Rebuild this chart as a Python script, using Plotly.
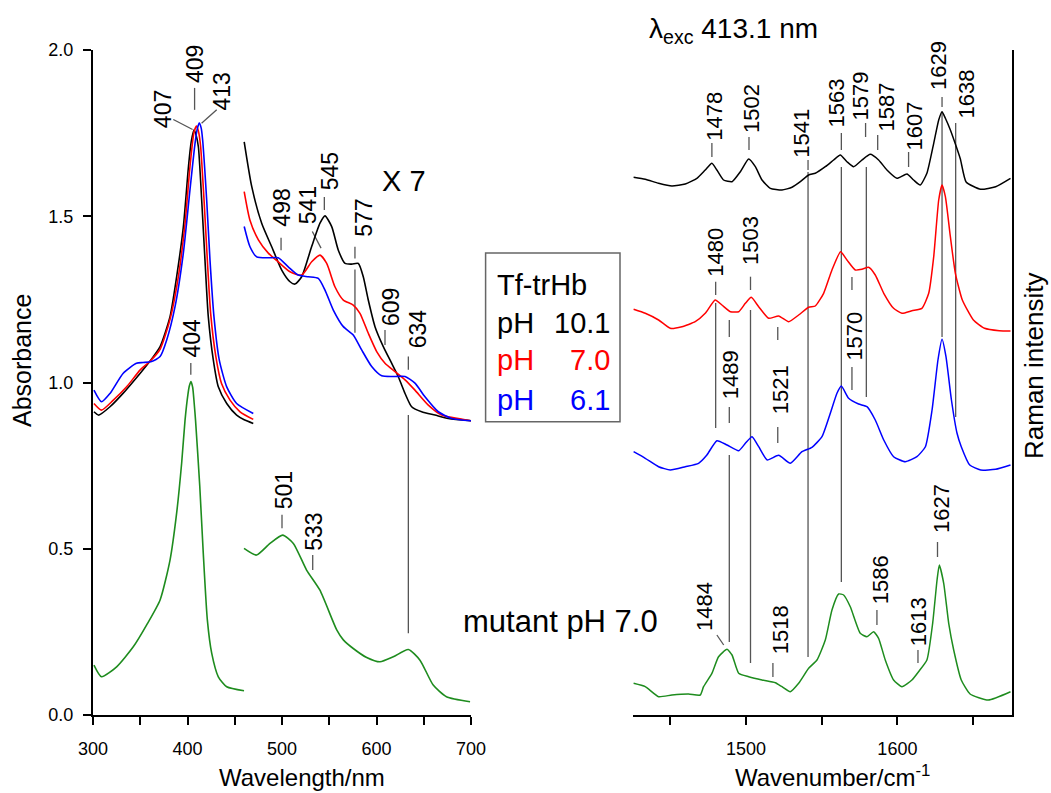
import plotly.graph_objects as go

FONT = "Liberation Sans, Arial, Helvetica, sans-serif"
W, H = 1051, 793

# ---------------- UV-vis absorbance data (nm, absorbance) ----------------
soret_black_nm = [301, 306, 318, 332, 350, 360, 371, 381.5, 388.5, 395.6, 401, 404, 407, 409, 411.5, 415, 418.5, 422, 427.3, 432.6, 441.5, 452, 460, 469.6]
soret_black_A = [0.912, 0.902, 0.927, 0.968, 1.028, 1.063, 1.108, 1.198, 1.318, 1.468, 1.649, 1.725, 1.76, 1.745, 1.709, 1.549, 1.368, 1.198, 1.068, 0.987, 0.937, 0.902, 0.888, 0.877]

soret_red_nm = [301, 309, 321.5, 335.6, 350, 360, 371, 381.5, 390.3, 397.4, 402.6, 407, 409.7, 412, 413.9, 417.5, 421, 424.5, 430, 436, 445, 455.6, 469.6]
soret_red_A = [0.937, 0.917, 0.947, 0.987, 1.038, 1.063, 1.10, 1.19, 1.318, 1.478, 1.649, 1.755, 1.771, 1.75, 1.709, 1.549, 1.368, 1.208, 1.078, 0.997, 0.947, 0.912, 0.889]

soret_blue_nm = [301, 309, 318, 332, 346, 353, 362, 371, 378, 386.8, 395.6, 402.6, 408, 410.5, 412.5, 414.5, 416, 420.3, 423.8, 428, 433.6, 441.5, 452, 469.6]
soret_blue_A = [0.977, 0.942, 0.967, 1.028, 1.058, 1.06, 1.063, 1.078, 1.128, 1.228, 1.389, 1.579, 1.72, 1.765, 1.78, 1.765, 1.73, 1.549, 1.368, 1.198, 1.068, 0.987, 0.937, 0.907]

soret_green_nm = [301, 309, 325, 342.6, 356.8, 371, 381.5, 388.5, 393.8, 397.4, 400.5, 402, 403.7, 405.5, 407, 408.5, 413, 416.7, 421, 425.6, 432.6, 441.5, 459.8]
soret_green_A = [0.150, 0.115, 0.145, 0.205, 0.271, 0.346, 0.466, 0.607, 0.757, 0.887, 0.965, 0.99, 1.003, 0.985, 0.94, 0.887, 0.687, 0.486, 0.286, 0.186, 0.115, 0.085, 0.073]

vis_black_nm = [460, 468, 478.5, 489, 499.7, 508.5, 513.8, 520.8, 531.4, 540.2, 545.5, 552.6, 559.6, 566.7, 573.8, 580.8, 586, 591.3, 598.4, 607.2, 616, 623, 630.2, 637.2, 647.8, 661.9, 676, 700]
vis_black_A = [1.724, 1.589, 1.479, 1.409, 1.338, 1.303, 1.296, 1.318, 1.409, 1.479, 1.501, 1.469, 1.398, 1.358, 1.356, 1.358, 1.318, 1.248, 1.168, 1.108, 1.058, 1.018, 0.967, 0.927, 0.912, 0.902, 0.892, 0.885]

vis_red_nm = [460, 466, 475, 485.5, 496, 508.5, 520.8, 531.4, 540.2, 547.3, 556, 564.9, 575.4, 582.5, 591.3, 600.2, 609, 619.6, 630.2, 640.7, 654.8, 669, 700]
vis_red_A = [1.574, 1.489, 1.429, 1.389, 1.363, 1.333, 1.323, 1.363, 1.383, 1.358, 1.288, 1.248, 1.233, 1.208, 1.148, 1.093, 1.058, 1.033, 1.008, 0.977, 0.932, 0.902, 0.885]

vis_blue_nm = [460, 466, 473.2, 485.5, 496, 506.6, 517.2, 527.8, 538.4, 545.5, 554.3, 564.9, 575.4, 584.3, 594.9, 605.5, 619.6, 630.2, 640.7, 651.3, 665.4, 679.6, 700]
vis_blue_A = [1.469, 1.409, 1.378, 1.375, 1.375, 1.348, 1.323, 1.318, 1.313, 1.278, 1.218, 1.168, 1.143, 1.098, 1.048, 1.020, 1.018, 1.018, 0.998, 0.957, 0.912, 0.892, 0.885]

vis_green_nm = [459.8, 473, 487.3, 500.7, 512, 526, 540, 557.9, 564.9, 575.4, 589.6, 603.7, 617.8, 633.7, 646, 660, 674, 699]
vis_green_A = [0.501, 0.481, 0.516, 0.541, 0.516, 0.436, 0.376, 0.256, 0.226, 0.200, 0.173, 0.160, 0.175, 0.197, 0.165, 0.09, 0.055, 0.040]

# ---------------- Resonance Raman data (cm-1, stacked intensity a.u.) ----------------
rr_black_wn = [1425.8, 1433.5, 1442.3, 1451.1, 1459.9, 1467.6, 1473.1, 1477.5, 1480.8, 1485.2, 1490.8, 1496.3, 1501.8, 1506.2, 1510.6, 1516.1, 1523.8, 1530.4, 1535.9, 1541.4, 1545.8, 1552.4, 1557.9, 1562.3, 1566.7, 1571.1, 1576.6, 1582.1, 1587.6, 1593.1, 1599.7, 1606.3, 1610.7, 1615.1, 1619.5, 1624.0, 1627.3, 1629.5, 1631.7, 1635.0, 1638.3, 1641.6, 1645.4, 1655.0, 1664.9, 1674.7]
rr_black_I = [536.7, 534.7, 530.7, 528.0, 530.0, 535.7, 544.0, 550.7, 544.0, 534.0, 532.3, 542.3, 555.0, 547.3, 534.0, 525.7, 524.0, 526.7, 532.3, 539.0, 540.7, 547.3, 554.0, 559.0, 552.3, 547.3, 554.0, 559.7, 554.0, 544.0, 535.7, 540.0, 534.0, 529.0, 540.7, 570.7, 594.0, 602.3, 595.7, 584.0, 570.0, 555.0, 532.0, 524.7, 527.3, 535.7]

rr_red_wn = [1425.8, 1433.5, 1442.3, 1450.0, 1457.7, 1466.5, 1473.1, 1479.7, 1484.1, 1489.7, 1495.2, 1499.6, 1503.5, 1508.4, 1515.0, 1521.6, 1528.2, 1534.8, 1541.4, 1545.8, 1551.3, 1556.8, 1562.5, 1566.7, 1572.2, 1576.6, 1581.0, 1585.4, 1591.0, 1597.5, 1603.0, 1609.6, 1616.2, 1620.7, 1624.0, 1627.3, 1629.5, 1631.7, 1635.0, 1638.3, 1642.9, 1650.2, 1657.6, 1667.3, 1674.7]
rr_red_I = [404.7, 400.7, 394.0, 385.7, 387.3, 392.3, 400.7, 414.0, 409.0, 402.3, 402.3, 410.7, 416.7, 407.3, 395.7, 398.0, 392.3, 399.0, 406.7, 408.0, 420.7, 444.0, 462.3, 454.0, 444.0, 444.7, 446.7, 439.0, 420.7, 405.7, 400.7, 403.3, 405.7, 420.7, 457.3, 514.0, 529.0, 517.3, 477.3, 440.7, 414.0, 394.0, 385.7, 383.3, 383.0]

rr_blue_wn = [1425.8, 1433.5, 1442.3, 1450.0, 1459.9, 1468.7, 1474.2, 1480.8, 1487.5, 1495.2, 1499.6, 1504.0, 1508.4, 1514.0, 1521.6, 1529.3, 1537.0, 1543.6, 1550.2, 1555.7, 1560.1, 1563.0, 1567.8, 1574.4, 1579.9, 1585.4, 1591.0, 1597.5, 1605.2, 1612.9, 1618.5, 1622.9, 1626.8, 1629.5, 1632.1, 1635.7, 1639.4, 1642.2, 1647.8, 1655.0, 1664.9, 1674.7]
rr_blue_I = [262.3, 255.7, 247.3, 244.0, 247.3, 250.7, 259.0, 273.3, 269.0, 263.3, 270.7, 277.3, 267.3, 254.0, 258.7, 250.7, 262.3, 266.7, 277.3, 300.7, 320.7, 328.0, 315.7, 310.0, 307.3, 294.0, 274.0, 257.3, 252.3, 257.3, 267.3, 304.0, 354.0, 374.7, 357.3, 314.0, 280.7, 267.3, 249.0, 244.0, 244.7, 249.0]

rr_green_wn = [1425.8, 1433.5, 1442.3, 1451.1, 1462.1, 1469.8, 1472.0, 1477.5, 1481.9, 1487.5, 1490.8, 1495.2, 1501.8, 1510.6, 1519.4, 1523.8, 1529.3, 1534.8, 1541.4, 1546.9, 1552.4, 1556.8, 1561.2, 1564.5, 1568.9, 1575.5, 1579.9, 1584.3, 1587.6, 1592.0, 1597.5, 1603.0, 1609.6, 1614.0, 1619.5, 1623.3, 1626.2, 1627.7, 1630.6, 1633.9, 1637.2, 1642.2, 1648.0, 1660.0, 1674.7]
rr_green_I = [30.7, 27.3, 17.3, 19.0, 20.0, 19.0, 27.3, 40.7, 57.3, 64.7, 59.0, 40.7, 37.3, 34.0, 31.3, 27.3, 22.3, 30.7, 45.7, 54.0, 74.0, 104.0, 120.0, 119.0, 107.3, 80.7, 77.3, 82.3, 75.7, 54.0, 34.0, 27.3, 34.0, 42.3, 54.0, 90.7, 134.0, 149.0, 130.7, 90.7, 64.0, 34.0, 20.0, 14.0, 22.3]

BLACK, RED, BLUE, GREEN = "#000000", "#ff0000", "#0000ff", "#1e8c1e"
GRAY = "#555555"


def px(x):
    return x / W


def py(y):
    return 1 - y / H


fig = go.Figure()

uv_sets = [
    (soret_black_nm, soret_black_A, BLACK), (soret_red_nm, soret_red_A, RED),
    (soret_blue_nm, soret_blue_A, BLUE), (soret_green_nm, soret_green_A, GREEN),
    (vis_black_nm, vis_black_A, BLACK), (vis_red_nm, vis_red_A, RED),
    (vis_blue_nm, vis_blue_A, BLUE), (vis_green_nm, vis_green_A, GREEN),
]
for xs, ys, c in uv_sets:
    fig.add_trace(go.Scatter(x=xs, y=ys, mode="lines", xaxis="x", yaxis="y",
                             line=dict(color=c, width=1.6, shape="spline", smoothing=0.6),
                             hoverinfo="skip", showlegend=False))

rr_sets = [(rr_black_wn, rr_black_I, BLACK), (rr_red_wn, rr_red_I, RED),
           (rr_blue_wn, rr_blue_I, BLUE), (rr_green_wn, rr_green_I, GREEN)]
for xs, ys, c in rr_sets:
    fig.add_trace(go.Scatter(x=xs, y=ys, mode="lines", xaxis="x2", yaxis="y2",
                             line=dict(color=c, width=1.5, shape="spline", smoothing=0.5),
                             hoverinfo="skip", showlegend=False))

# ---------------- band labels (text, text position, marker segments) ----------------
uv_labels = [
    ("407", 374.4, 1.823, [(385, 1.791, 405.4, 1.761)]),
    ("409", 408.0, 1.958, [(407.5, 1.886, 407.5, 1.820)]),
    ("413", 436.2, 1.874, [(430.9, 1.820, 414.9, 1.780)]),
    ("404", 404.4, 1.134, [(403.5, 1.059, 403.5, 1.023)]),
    ("498", 499.7, 1.525, [(499, 1.435, 499, 1.398)]),
    ("541", 527.2, 1.532, [(532.1, 1.454, 541.3, 1.404)]),
    ("545", 551.0, 1.636, [(544.8, 1.558, 544.8, 1.519)]),
    ("577", 586.0, 1.496, [(577.2, 1.408, 577.2, 1.373), (577.2, 1.34, 577.2, 1.15)]),
    ("609", 616.1, 1.226, [(609, 1.158, 609, 1.113)]),
    ("634", 644.2, 1.161, [(633.7, 1.078, 633.7, 1.038), (633.7, 0.902, 633.7, 0.246)]),
    ("501", 502.5, 0.677, [(500, 0.602, 500, 0.562)]),
    ("533", 533.9, 0.551, [(532.5, 0.481, 532.5, 0.436)]),
]

rr_labels = [
    ("1478", 1479.0, 597.5, [(1477.5, 571, 1477.5, 557)]),
    ("1502", 1503.3, 606.0, [(1502, 577, 1502, 564)]),
    ("1541", 1536.5, 580.5, [(1541, 554, 1541, 544)]),
    ("1563", 1560.1, 611.5, [(1563, 581, 1563, 564)]),
    ("1579", 1575.0, 618.0, [(1579, 591, 1579, 577)]),
    ("1587", 1592.5, 606.5, [(1587, 579, 1587, 564)]),
    ("1607", 1610.7, 588.0, [(1607.4, 562, 1607.4, 547)]),
    ("1629", 1626.8, 649.0, [(1629.5, 617, 1629.5, 607)]),
    ("1638", 1645.6, 620.0, []),
    ("1480", 1480.2, 462.3, [(1480, 432.3, 1480, 419)]),
    ("1503", 1503.5, 473.2, [(1503, 437.3, 1503, 424)]),
    ("1489", 1489.6, 339.0, [(1489, 394, 1489, 377), (1489, 307, 1489, 291)]),
    ("1521", 1522.7, 324.0, [(1521, 387, 1521, 374), (1521, 287, 1521, 271)]),
    ("1570", 1571.1, 378.0, [(1570, 437, 1570, 424), (1570, 347, 1570, 324)]),
    ("1484", 1472.5, 107.3, [(1480.8, 79, 1485.3, 69)]),
    ("1518", 1522.7, 84.0, [(1517.8, 51, 1517.8, 37)]),
    ("1586", 1588.7, 134.0, [(1586.5, 104, 1586.5, 89)]),
    ("1613", 1614.0, 92.3, [(1613.6, 64, 1613.6, 51)]),
    ("1627", 1628.8, 206.0, [(1626.5, 172, 1626.5, 157)]),
]

# correlation lines across the Raman spectra (cm-1, from, to)
rr_guides = [(1480, 411, 286), (1489, 259, 72), (1503, 404, 51), (1541, 542, 57),
             (1563, 547, 132), (1579.5, 547, 317), (1629.5, 602, 377), (1638.5, 591, 297)]

annotations = []
shapes = []

for txt, tx, ty, segs in uv_labels:
    annotations.append(dict(text=txt, x=tx, y=ty, xref="x", yref="y", showarrow=False,
                            textangle=-90, font=dict(family=FONT, size=23, color="black"),
                            xanchor="center", yanchor="middle"))
    for x0, y0, x1, y1 in segs:
        shapes.append(dict(type="line", xref="x", yref="y", x0=x0, y0=y0, x1=x1, y1=y1,
                           line=dict(color=GRAY, width=1.3), layer="below"))

for txt, tx, ty, segs in rr_labels:
    annotations.append(dict(text=txt, x=tx, y=ty, xref="x2", yref="y2", showarrow=False,
                            textangle=-90, font=dict(family=FONT, size=22, color="black"),
                            xanchor="center", yanchor="middle"))
    for x0, y0, x1, y1 in segs:
        shapes.append(dict(type="line", xref="x2", yref="y2", x0=x0, y0=y0, x1=x1, y1=y1,
                           line=dict(color=GRAY, width=1.3), layer="below"))

for wn, y0, y1 in rr_guides:
    shapes.append(dict(type="line", xref="x2", yref="y2", x0=wn, y0=y0, x1=wn, y1=y1,
                       line=dict(color=GRAY, width=1.3), layer="below"))

# legend-like box
shapes.append(dict(type="rect", xref="paper", yref="paper", x0=px(485.6), x1=px(620),
                   y0=py(421.7), y1=py(253), line=dict(color="#666666", width=1.5),
                   fillcolor="rgba(0,0,0,0)"))

legend_rows = [("pH", "10.1", BLACK, 323), ("pH", "7.0", RED, 360), ("pH", "6.1", BLUE, 400)]
annotations.append(dict(text="Tf-trHb", x=px(495), y=py(285), xref="paper", yref="paper",
                        showarrow=False, xanchor="left", yanchor="middle",
                        font=dict(family=FONT, size=29, color="black")))
for a, b, c, yy in legend_rows:
    annotations.append(dict(text=a, x=px(495), y=py(yy), xref="paper", yref="paper",
                            showarrow=False, xanchor="left", yanchor="middle",
                            font=dict(family=FONT, size=29, color=c)))
    annotations.append(dict(text=b, x=px(612), y=py(yy), xref="paper", yref="paper",
                            showarrow=False, xanchor="right", yanchor="middle",
                            font=dict(family=FONT, size=29, color=c)))

annotations += [
    dict(text="X 7", x=px(404), y=py(163), xref="paper", yref="paper", showarrow=False,
         font=dict(family=FONT, size=29, color="black")),
    dict(text="mutant pH 7.0", x=px(660), y=py(621), xref="paper", yref="paper", showarrow=False,
         xanchor="right", yanchor="middle", font=dict(family=FONT, size=31, color="black")),
    dict(text="λ<sub>exc</sub> 413.1 nm", x=px(647), y=py(31), xref="paper", yref="paper",
         showarrow=False, xanchor="left", yanchor="middle",
         font=dict(family=FONT, size=28, color="black")),
    dict(text="Absorbance", x=px(6), y=py(361), xref="paper", yref="paper", showarrow=False,
         textangle=-90, xanchor="left", yanchor="middle",
         font=dict(family=FONT, size=25, color="black")),
    dict(text="Wavelength/nm", x=px(302), y=0, xref="paper", yref="paper", showarrow=False,
         xanchor="center", yanchor="bottom", font=dict(family=FONT, size=24, color="black")),
    dict(text="Wavenumber/cm<sup>-1</sup>", x=px(832), y=0, xref="paper", yref="paper",
         showarrow=False, xanchor="center", yanchor="bottom",
         font=dict(family=FONT, size=24, color="black")),
    dict(text="Raman intensity", x=1.0, y=py(366), xref="paper", yref="paper",
         showarrow=False, textangle=-90, xanchor="right", yanchor="middle",
         font=dict(family=FONT, size=26, color="black")),
]

axis_common = dict(showline=True, linecolor="black", linewidth=2, showgrid=False, zeroline=False,
                   ticks="outside", ticklen=8, tickwidth=2, tickcolor="black", automargin=False,
                   tickfont=dict(family=FONT, size=18, color="black"))

fig.update_layout(
    template="none",
    width=W, height=H, margin=dict(l=0, r=0, t=0, b=0, pad=0), autosize=False,
    paper_bgcolor="white", plot_bgcolor="white", showlegend=False,
    xaxis=dict(domain=[px(93), px(471)], range=[300, 700], anchor="y", tick0=300, dtick=100,
               minor=dict(tick0=300, dtick=50, ticks="outside", ticklen=8, tickwidth=2, tickcolor="black"),
               ticklabelstandoff=8, **axis_common),
    yaxis=dict(domain=[py(715), py(50)], range=[0, 2.0], anchor="x", tick0=0, dtick=0.5,
               tickformat=".1f", ticklabelstandoff=6, **axis_common),
    xaxis2=dict(domain=[px(633), px(1012)], range=[1425.4, 1675.7], anchor="y2", tick0=1500, dtick=100,
                minor=dict(tick0=1450, dtick=50, ticks="outside", ticklen=8, tickwidth=2, tickcolor="black"),
                ticklabelstandoff=8, **axis_common),
    yaxis2=dict(domain=[py(715), py(50)], range=[-1, 664], anchor="x2", side="right",
                showline=True, linecolor="black", linewidth=2, showgrid=False, zeroline=False,
                ticks="", showticklabels=False, automargin=False),
    annotations=annotations, shapes=shapes,
)

fig.write_html("out.html")
